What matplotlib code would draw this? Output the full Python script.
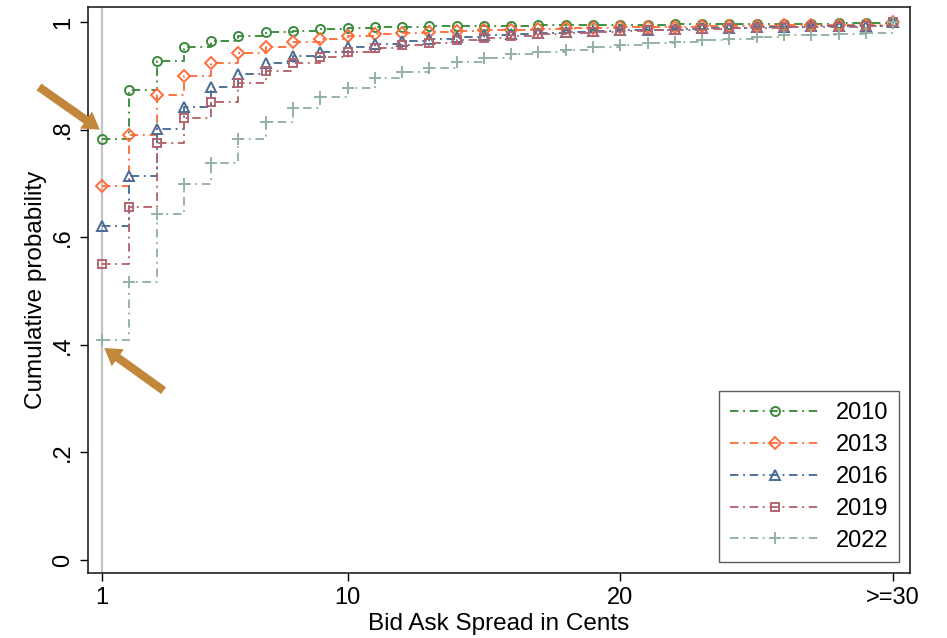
"""
Cumulative distribution of bid-ask spreads (cents), 2010-2022.
Stata-style step plot recreated with matplotlib.
"""

import matplotlib
matplotlib.use("Agg")
import matplotlib.pyplot as plt

# =========================================================
# DATA
# =========================================================

spread_cents = list(range(1, 31))
x_tick_values = [1, 10, 20, 30]
x_tick_labels = ["1", "10", "20", ">=30"]
y_tick_values = [0, 0.2, 0.4, 0.6, 0.8, 1.0]
y_tick_labels = ["0", ".2", ".4", ".6", ".8", "1"]

years = ["2010", "2013", "2016", "2019", "2022"]

cdf_2010 = [0.782, 0.874, 0.928, 0.954, 0.965, 0.974, 0.981, 0.984, 0.987, 0.989,
            0.990, 0.991, 0.992, 0.992, 0.993, 0.993, 0.994, 0.994, 0.995, 0.995,
            0.995, 0.996, 0.996, 0.996, 0.997, 0.997, 0.997, 0.998, 0.998, 1.000]
cdf_2013 = [0.695, 0.790, 0.864, 0.900, 0.924, 0.942, 0.953, 0.963, 0.968, 0.974,
            0.978, 0.980, 0.982, 0.983, 0.985, 0.986, 0.987, 0.988, 0.989, 0.990,
            0.990, 0.991, 0.992, 0.992, 0.993, 0.994, 0.994, 0.995, 0.995, 1.000]
cdf_2016 = [0.621, 0.714, 0.801, 0.842, 0.879, 0.903, 0.924, 0.937, 0.944, 0.954,
            0.960, 0.964, 0.968, 0.972, 0.975, 0.977, 0.979, 0.981, 0.983, 0.985,
            0.986, 0.987, 0.988, 0.989, 0.990, 0.991, 0.992, 0.993, 0.993, 1.000]
cdf_2019 = [0.550, 0.656, 0.775, 0.821, 0.851, 0.887, 0.909, 0.924, 0.935, 0.944,
            0.952, 0.957, 0.961, 0.966, 0.970, 0.974, 0.978, 0.980, 0.982, 0.984,
            0.985, 0.986, 0.987, 0.988, 0.989, 0.990, 0.990, 0.991, 0.992, 1.000]
cdf_2022 = [0.409, 0.517, 0.643, 0.699, 0.738, 0.782, 0.814, 0.840, 0.861, 0.877,
            0.895, 0.907, 0.914, 0.926, 0.933, 0.940, 0.944, 0.948, 0.954, 0.957,
            0.961, 0.963, 0.967, 0.968, 0.972, 0.975, 0.976, 0.978, 0.980, 1.000]

# =========================================================
# STYLE
# =========================================================

series = [cdf_2010, cdf_2013, cdf_2016, cdf_2019, cdf_2022]
colors = ["#3a8a3c", "#ff6e3a", "#4a6d96", "#b5646c", "#93b2a4"]
markers = ["o", "D", "^", "s", "+"]
marker_sizes = [6.5, 6.5, 7, 6, 8]
DASHDOT = (0, (4.5, 2.5, 1, 2.5))
ARROW_COLOR = "#c2873a"

plt.rcParams["font.family"] = ["Liberation Sans", "DejaVu Sans"]

# =========================================================
# PLOT
# =========================================================

fig = plt.figure(figsize=(9.47, 6.38), dpi=100)
ax = fig.add_axes([88 / 947, (638 - 573) / 638, (910 - 88) / 947, (573 - 7) / 638])

# reference line at the 1-cent spread
ax.axvline(spread_cents[0], color="#c4c4c4", lw=1.6, zorder=0)

for yr, vals, c, m, ms in zip(years, series, colors, markers, marker_sizes):
    ax.plot(spread_cents, vals, drawstyle="steps-post", color=c, lw=1.35,
            linestyle=DASHDOT, marker=m, markersize=ms, markerfacecolor="none",
            markeredgecolor=c, markeredgewidth=1.4, label=yr)

ax.set_xlim(0.487, 30.62)
ax.set_ylim(-0.0242, 1.0279)

ax.set_xticks(x_tick_values)
ax.set_xticklabels(x_tick_labels, fontsize=17)
ax.set_yticks(y_tick_values)
ax.set_yticklabels(y_tick_labels, fontsize=17, rotation=90, va="center")
ax.tick_params(direction="out", length=6, width=1, colors="black", pad=4)

ax.set_xlabel("Bid Ask Spread in Cents", fontsize=17.5, labelpad=3)
ax.set_ylabel("Cumulative probability", fontsize=17.5, labelpad=4)

for s in ax.spines.values():
    s.set_linewidth(1.2)
    s.set_color("#222222")

leg = ax.legend(loc="lower right", fontsize=17, frameon=True, fancybox=False,
                edgecolor="#333333", handlelength=3.8, numpoints=1,
                labelspacing=0.42, borderaxespad=0.45, borderpad=0.45,
                handletextpad=0.7)
leg.get_frame().set_linewidth(1.0)

# arrows highlighting the share of 1-cent spreads in 2010 and 2022
arrow_style = dict(arrowstyle="simple,head_width=1.5,head_length=1.2,tail_width=0.6",
                   color=ARROW_COLOR, lw=0)
ax.annotate("", xy=(spread_cents[0], cdf_2010[0] + 0.015), xytext=(-47, 33),
            textcoords="offset points", arrowprops=arrow_style,
            annotation_clip=False)
ax.annotate("", xy=(spread_cents[0], cdf_2022[0] - 0.012), xytext=(46, -33),
            textcoords="offset points", arrowprops=arrow_style,
            annotation_clip=False)

fig.savefig("out.png", dpi=100)
